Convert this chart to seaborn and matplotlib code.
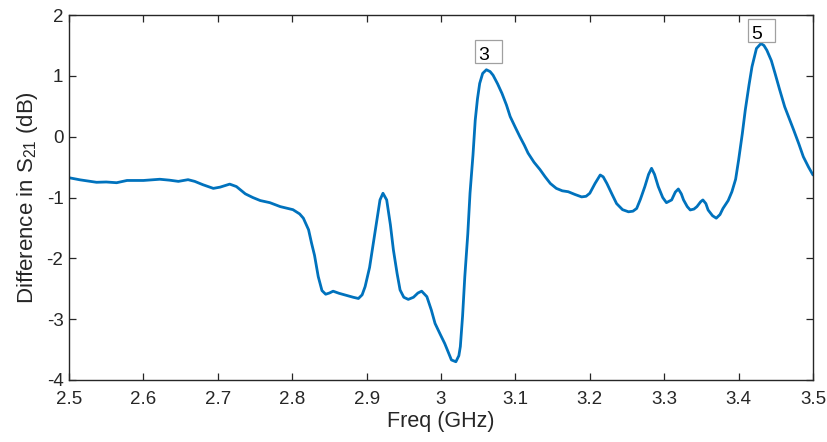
import matplotlib
matplotlib.use("Agg")
import matplotlib.pyplot as plt
import seaborn as sns
import pandas as pd
from matplotlib.patches import Rectangle

# Measured difference in S21 versus frequency
freq_ghz = [
    2.500, 2.515, 2.537, 2.550, 2.564, 2.578, 2.600, 2.612, 2.622, 2.635,
    2.647, 2.660, 2.669, 2.680, 2.694, 2.703, 2.716, 2.725, 2.737, 2.747,
    2.757, 2.770, 2.784, 2.801, 2.810, 2.815, 2.822, 2.826, 2.830, 2.835,
    2.840, 2.845, 2.850, 2.855, 2.863, 2.873, 2.882, 2.889, 2.894, 2.898,
    2.904, 2.909, 2.914, 2.918, 2.922, 2.927, 2.932, 2.936, 2.941, 2.945,
    2.950, 2.956, 2.963, 2.969, 2.974, 2.981, 2.987, 2.992, 2.999, 3.005,
    3.010, 3.014, 3.020, 3.024, 3.026, 3.029, 3.032, 3.036, 3.039, 3.043,
    3.046, 3.049, 3.052, 3.056, 3.061, 3.066, 3.070, 3.076, 3.082, 3.088,
    3.093, 3.100, 3.106, 3.112, 3.117, 3.125, 3.133, 3.140, 3.147, 3.155,
    3.163, 3.171, 3.180, 3.189, 3.195, 3.200, 3.207, 3.214, 3.218, 3.223,
    3.230, 3.236, 3.244, 3.252, 3.258, 3.263, 3.268, 3.274, 3.279, 3.283,
    3.287, 3.292, 3.298, 3.303, 3.310, 3.315, 3.319, 3.323, 3.326, 3.331,
    3.335, 3.340, 3.344, 3.349, 3.352, 3.356, 3.359, 3.365, 3.370, 3.375,
    3.379, 3.386, 3.391, 3.396, 3.400, 3.405, 3.409, 3.414, 3.418, 3.424,
    3.430, 3.434, 3.438, 3.444, 3.449, 3.455, 3.462, 3.468, 3.474, 3.481,
    3.487, 3.494, 3.500,
]
diff_db = [
    -0.675, -0.71, -0.75, -0.745, -0.757, -0.72, -0.72, -0.71, -0.70, -0.715,
    -0.735, -0.707, -0.735, -0.79, -0.85, -0.83, -0.78, -0.82, -0.94, -1.00,
    -1.05, -1.085, -1.15, -1.20, -1.27, -1.34, -1.53, -1.75, -1.95, -2.30,
    -2.53, -2.59, -2.57, -2.54, -2.575, -2.61, -2.64, -2.66, -2.60, -2.465,
    -2.15, -1.75, -1.35, -1.04, -0.93, -1.04, -1.45, -1.86, -2.25, -2.52,
    -2.64, -2.675, -2.64, -2.57, -2.54, -2.63, -2.85, -3.07, -3.25, -3.40,
    -3.55, -3.67, -3.70, -3.60, -3.45, -2.95, -2.30, -1.60, -0.93, -0.30,
    0.27, 0.62, 0.875, 1.04, 1.10, 1.07, 1.01, 0.87, 0.71, 0.52,
    0.33, 0.15, 0.00, -0.14, -0.27, -0.42, -0.54, -0.66, -0.77, -0.85,
    -0.89, -0.905, -0.95, -0.99, -0.98, -0.93, -0.77, -0.63, -0.66, -0.77,
    -0.95, -1.10, -1.20, -1.235, -1.225, -1.18, -1.03, -0.82, -0.62, -0.52,
    -0.62, -0.82, -1.00, -1.085, -1.04, -0.91, -0.86, -0.94, -1.04, -1.15,
    -1.205, -1.19, -1.15, -1.07, -1.04, -1.10, -1.205, -1.30, -1.34, -1.28,
    -1.18, -1.05, -0.905, -0.70, -0.385, 0.05, 0.44, 0.85, 1.15, 1.45,
    1.53, 1.50, 1.42, 1.25, 1.04, 0.78, 0.49, 0.30, 0.11, -0.12,
    -0.33, -0.50, -0.63,
]

# Boxed peak tags: text and the lower-left corner of each box
tag_labels = ["3", "5"]
tag_freq = [3.046, 3.413]
tag_vals = [1.21, 1.55]

x_ticks = [2.5, 2.6, 2.7, 2.8, 2.9, 3.0, 3.1, 3.2, 3.3, 3.4, 3.5]
x_tick_labels = ["2.5", "2.6", "2.7", "2.8", "2.9", "3", "3.1", "3.2", "3.3", "3.4", "3.5"]
y_ticks = [-4, -3, -2, -1, 0, 1, 2]

sns.set_theme(style="white")
plt.rcParams["font.family"] = ["Liberation Sans", "DejaVu Sans"]
plt.rcParams["mathtext.fontset"] = "custom"
plt.rcParams["mathtext.rm"] = "Liberation Sans"
plt.rcParams["mathtext.it"] = "Liberation Sans"

df = pd.DataFrame({"freq": freq_ghz, "diff": diff_db})

fig = plt.figure(figsize=(8.28, 4.42), dpi=100)
ax = fig.add_axes([69 / 828, 1 - 380 / 442, 744 / 828, 365 / 442])

sns.lineplot(data=df, x="freq", y="diff", sort=False, estimator=None,
             color="#0072BD", linewidth=2.0, ax=ax)

ax.set_xlim(2.5, 3.5)
ax.set_ylim(-4, 2)
ax.set_xticks(x_ticks)
ax.set_xticklabels(x_tick_labels)
ax.set_yticks(y_ticks)
ax.set_yticklabels([str(v) for v in y_ticks])

axis_color = "#262626"
for side in ["left", "right", "top", "bottom"]:
    ax.spines[side].set_visible(True)
    ax.spines[side].set_color(axis_color)
    ax.spines[side].set_linewidth(1.0)

ax.tick_params(axis="both", which="both", direction="in", length=5, width=0.9,
               color=axis_color, labelcolor=axis_color, labelsize=13.5,
               top=True, right=True, bottom=True, left=True)
ax.tick_params(axis="x", pad=8)
ax.tick_params(axis="y", pad=4)

ax.set_xlabel("Freq (GHz)", fontsize=15.5, color=axis_color, labelpad=2)
ax.set_ylabel("Difference in S$_{21}$ (dB)", fontsize=16, color=axis_color, labelpad=5)

# Boxed tags above the two main peaks
box_w, box_h = 0.0365, 0.38
for lab, x0, y0 in zip(tag_labels, tag_freq, tag_vals):
    ax.add_patch(Rectangle((x0, y0), box_w, box_h, fill=True, facecolor="white",
                           edgecolor="#A0A0A0", linewidth=0.9, zorder=5))
    ax.text(x0 + 0.0045, y0 + 0.05, lab, fontsize=14, color="black",
            ha="left", va="baseline", zorder=6)

fig.savefig("out.png", dpi=100)
